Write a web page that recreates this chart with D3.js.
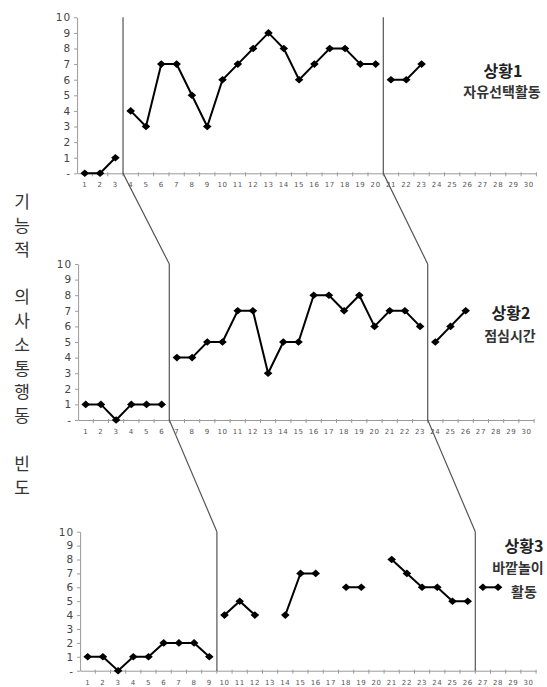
<!DOCTYPE html>
<html>
<head>
<meta charset="utf-8">
<script src="https://cdn.jsdelivr.net/npm/d3@7"></script>
<style>
  body { margin: 0; background: #fff; }
  svg { display: block; }
</style>
</head>
<body>
<div id="chart"></div>
<script>
// DATA

// sessions on the x-axis
const sessions = [1, 2, 3, 4, 5, 6, 7, 8, 9, 10, 11, 12, 13, 14, 15,
  16, 17, 18, 19, 20, 21, 22, 23, 24, 25, 26, 27, 28, 29, 30];

// y ticks, 0 is shown as "-"
const yTicks = [0, 1, 2, 3, 4, 5, 6, 7, 8, 9, 10];
const yTickLabels = ["-", "1", "2", "3", "4", "5", "6", "7", "8", "9", "10"];

// frequency per session (null = no observation)
const situation1 = [0, 0, 1, 4, 3, 7, 7, 5, 3, 6, 7, 8, 9, 8, 6, 7, 8, 8, 7, 7,
  6, 6, 7, null, null, null, null, null, null, null];
const situation2 = [1, 1, 0, 1, 1, 1, 4, 4, 5, 5, 7, 7, 3, 5, 5, 8, 8, 7, 8, 6,
  7, 7, 6, 5, 6, 7, null, null, null, null];
const situation3 = [1, 1, 0, 1, 1, 2, 2, 2, 1, 4, 5, 4, null, 4, 7, 7, null, 6, 6, null,
  8, 7, 6, 6, 5, 5, 6, 6, null, null];

// last session of each phase before the phase-change line
const phaseBreaks1 = [3, 20];
const phaseBreaks2 = [6, 23];
const phaseBreaks3 = [9, 26];

// panel labels
const titles = ["상황1", "상황2", "상황3"];
const subtitles = [["자유선택활동"], ["점심시간"], ["바깥놀이", "활동"]];

// y-axis title, one character per row ("" = blank row)
const yTitle = ["기", "능", "적", "", "의", "사", "소", "통", "행", "동", "", "빈", "도"];

// LAYOUT
const WIDTH = 547;
const HEIGHT = 687;

const panels = [
  { values: situation1, breaks: phaseBreaks1, x0: 77.1, w: 459.3, top: 17.3, zero: 173.3,
    tx: [503, 502], ty: [71, 92] },
  { values: situation2, breaks: phaseBreaks2, x0: 78.1, w: 456, top: 264, zero: 420,
    tx: [511, 510], ty: [313, 336] },
  { values: situation3, breaks: phaseBreaks3, x0: 80.1, w: 456, top: 531.7, zero: 670.7,
    tx: [524, 518, 524], ty: [546, 568, 592] },
];

const svg = d3
  .select("#chart")
  .append("svg")
  .attr("width", WIDTH)
  .attr("height", HEIGHT);

// scales for each panel
panels.forEach((p) => {
  p.x = d3.scaleBand().domain(sessions).range([p.x0, p.x0 + p.w]).padding(0);
  p.y = d3.scaleLinear().domain([0, 10]).range([p.zero, p.top]);
  p.cx = (s) => p.x(s) + p.x.bandwidth() / 2;
  p.edge = (s) => p.x(s) + p.x.bandwidth(); // right edge of a session band
});

const diamond = "M0,-3.8L4.3,0L0,3.8L-4.3,0Z";

panels.forEach((p, i) => {
  const g = svg.append("g");

  // y axis
  const yAxis = g
    .append("g")
    .attr("transform", `translate(${p.x0}, 0)`)
    .call(
      d3.axisLeft(p.y)
        .tickValues(yTicks)
        .tickSize(3)
        .tickSizeOuter(0)
        .tickFormat((d, k) => yTickLabels[k])
    );
  yAxis.select(".domain").attr("stroke", "#9a9a9a");
  yAxis.selectAll(".tick line").attr("stroke", "#9a9a9a");
  yAxis
    .selectAll(".tick text")
    .attr("x", -6)
    .attr("fill", "#444")
    .style("font-family", "DejaVu Sans")
    .style("font-size", "10.5px")
    .style("letter-spacing", "1px");

  // x axis, ticks on the band edges
  const xAxis = g
    .append("g")
    .attr("transform", `translate(0, ${p.zero})`)
    .call(d3.axisBottom(p.x).tickSize(0).tickSizeOuter(0));
  xAxis.select(".domain").attr("stroke", "#9a9a9a");
  xAxis
    .selectAll(".tick text")
    .attr("y", 9)
    .attr("fill", "#555")
    .style("font-family", "DejaVu Sans")
    .style("font-size", "7px")
    .style("letter-spacing", "0.6px");
  g.append("g")
    .selectAll("line")
    .data(sessions)
    .enter()
    .append("line")
    .attr("x1", (d) => p.edge(d))
    .attr("x2", (d) => p.edge(d))
    .attr("y1", p.zero - 1)
    .attr("y2", p.zero + 3)
    .attr("stroke", "#9a9a9a");

  // split series into phases, lines only inside a phase
  const bounds = [0, ...p.breaks, sessions.length];
  for (let k = 0; k < bounds.length - 1; k++) {
    const seg = sessions
      .map((s, j) => ({ s: s, v: p.values[j] }))
      .filter((d) => d.s > bounds[k] && d.s <= bounds[k + 1]);

    const line = d3
      .line()
      .defined((d) => d.v !== null)
      .x((d) => p.cx(d.s))
      .y((d) => p.y(d.v));

    g.append("path")
      .datum(seg)
      .attr("d", line)
      .attr("fill", "none")
      .attr("stroke", "#000")
      .attr("stroke-width", 2);

    g.selectAll(null)
      .data(seg.filter((d) => d.v !== null))
      .enter()
      .append("path")
      .attr("d", diamond)
      .attr("transform", (d) => `translate(${p.cx(d.s)}, ${p.y(d.v)})`)
      .attr("fill", "#000");
  }

  // phase-change lines
  p.breaks.forEach((b, k) => {
    const bx = p.edge(b);
    const pts = [[bx, p.y(10)], [bx, p.y(0)]];
    const next = panels[i + 1];
    if (next) {
      pts.push([next.edge(next.breaks[k]), next.y(10)]);
    }
    g.append("path")
      .attr("d", d3.line()(pts))
      .attr("fill", "none")
      .attr("stroke", "#555")
      .attr("stroke-width", 1.2);
  });

  // panel labels
  g.append("text")
    .attr("x", p.tx[0])
    .attr("y", p.ty[0])
    .attr("dy", ".35em")
    .attr("text-anchor", "middle")
    .attr("fill", "#222")
    .style("font-family", "Noto Sans CJK KR")
    .style("font-weight", "bold")
    .style("font-size", "16px")
    .text(titles[i]);

  subtitles[i].forEach((t, k) => {
    g.append("text")
      .attr("x", p.tx[k + 1])
      .attr("y", p.ty[k + 1])
      .attr("dy", ".35em")
      .attr("text-anchor", "middle")
      .attr("fill", "#333")
      .style("font-family", "Noto Sans CJK KR")
      .style("font-weight", "bold")
      .style("font-size", "14px")
      .text(t);
  });
});

// vertical y-axis title
svg
  .append("g")
  .selectAll("text")
  .data(yTitle)
  .enter()
  .append("text")
  .attr("x", 22)
  .attr("y", (d, i) => 202 + i * 23.8)
  .attr("dy", ".35em")
  .attr("text-anchor", "middle")
  .attr("fill", "#333")
  .style("font-family", "Noto Sans CJK KR")
  .style("font-size", "17px")
  .text((d) => d);
</script>
</body>
</html>
